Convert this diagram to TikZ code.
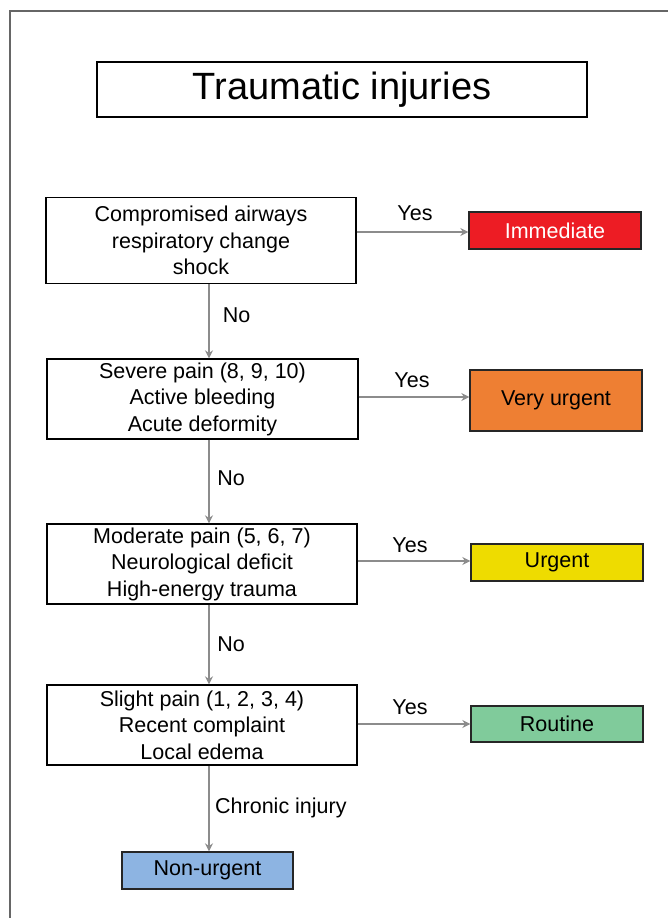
\documentclass[tikz,border=0pt]{standalone}
\usepackage{fontspec}
\setmainfont{Liberation Sans}
\usetikzlibrary{arrows.meta}
\definecolor{cred}{HTML}{ED1C24}
\definecolor{corange}{HTML}{EE7F33}
\definecolor{cyellow}{HTML}{EEDC00}
\definecolor{cgreen}{HTML}{80CB9B}
\definecolor{cblue}{HTML}{8DB4E2}
\definecolor{arrgray}{HTML}{8C8C8C}
\definecolor{framegray}{HTML}{666666}
\tikzset{
  qbox/.style={draw=black, line width=1.3pt, fill=white, align=center, inner sep=0pt,
    font=\fontsize{21.5}{26.5}\selectfont},
  outbox/.style={draw=black!85, line width=1.3pt, align=center, inner sep=0pt,
    minimum width=172pt, font=\fontsize{21.5}{26.5}\selectfont},
  arr/.style={draw=arrgray, line width=2.2pt, -{Stealth[length=8pt,width=8pt]}},
  lbl/.style={inner sep=0pt, font=\fontsize{21.5}{26.5}\selectfont},
}
\begin{document}
\begin{tikzpicture}[x=1pt,y=-1pt]
\useasboundingbox (0,0) rectangle (668,918);
\draw[framegray, line width=2pt] (10,918) -- (10,11) -- (668,11);

\node[draw=black, line width=1.6pt, minimum width=490pt, minimum height=55pt, inner sep=0pt,
  font=\fontsize{38}{44}\selectfont] (title) at (342,89.5) {Traumatic injuries};

\node[qbox, minimum width=310pt, minimum height=86pt] (b1) at (201,240.5)
  {Compromised airways\\respiratory change\\shock};
\node[qbox, minimum width=311pt, minimum height=80pt] (b2) at (202.5,399)
  {Severe pain (8, 9, 10)\\Active bleeding\\Acute deformity};
\node[qbox, minimum width=310pt, minimum height=80pt] (b3) at (202,564)
  {Moderate pain (5, 6, 7)\\Neurological deficit\\High-energy trauma};
\node[qbox, minimum width=310pt, minimum height=80pt] (b4) at (202,725)
  {Slight pain (1, 2, 3, 4)\\Recent complaint\\Local edema};

\node[outbox, fill=cred, text=white, minimum height=37pt] (o1) at (555,230.5) {Immediate};
\node[outbox, fill=corange, minimum height=61pt] (o2) at (556,400.5) {Very urgent};
\node[outbox, fill=cyellow, minimum height=37pt] (o3) at (557,562.5) {Urgent};
\node[outbox, fill=cgreen, minimum height=36pt] (o4) at (557,724) {Routine};
\node[outbox, fill=cblue, minimum width=171pt, minimum height=37pt] (o5) at (207.5,870.5) {Non-urgent};

\coordinate (ax) at (209,0);

\draw[arr] (b1.east |- 0,232) -- (o1.west |- 0,232);
\draw[arr] (b2.east |- 0,397) -- (o2.west |- 0,397);
\draw[arr] (b3.east |- 0,561) -- (o3.west |- 0,561);
\draw[arr] (b4.east |- 0,724) -- (o4.west |- 0,724);

\draw[arr] (b1.south -| ax) -- (b2.north -| ax);
\draw[arr] (b2.south -| ax) -- (b3.north -| ax);
\draw[arr] (b3.south -| ax) -- (b4.north -| ax);
\draw[arr] (b4.south -| ax) -- (o5.north -| ax);

\node[lbl] (y1) at (415,213) {Yes};
\node[lbl] (y2) at (412,380) {Yes};
\node[lbl] (y3) at (410,545) {Yes};
\node[lbl] (y4) at (410,707) {Yes};

\node[lbl] (n1) at (236.5,315) {No};
\node[lbl] (n2) at (231,478) {No};
\node[lbl] (n3) at (231,644) {No};
\node[lbl, anchor=west] (n4) at (215,808) {Chronic injury};
\end{tikzpicture}
\end{document}
